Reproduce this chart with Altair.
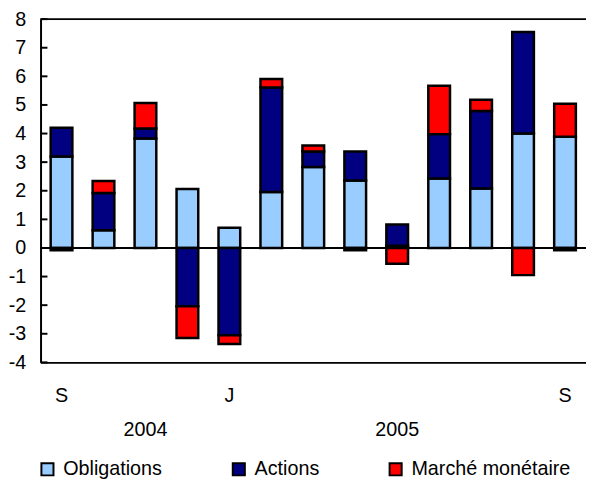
import altair as alt
import pandas as pd

months = ["2004-09", "2004-10", "2004-11", "2004-12", "2005-01", "2005-02", "2005-03",
          "2005-04", "2005-05", "2005-06", "2005-07", "2005-08", "2005-09"]
month_labels = ["S", "", "", "", "J", "", "", "", "", "", "", "", "S"]
series = ["Obligations", "Actions", "Marché monétaire"]
colors = ["#99CCFF", "#000080", "#FF0000"]
obligations = [3.20, 0.62, 3.83, 2.06, 0.71, 1.96, 2.83, 2.36, 0.08, 2.43, 2.08, 4.00, 3.89]
actions = [1.00, 1.30, 0.35, -2.04, -3.05, 3.65, 0.54, 1.01, 0.74, 1.55, 2.71, 3.55, -0.08]
money_market = [-0.08, 0.42, 0.89, -1.11, -0.31, 0.30, 0.21, -0.08, -0.55, 1.69, 0.39, -0.95, 1.15]
y_ticks = [-4, -3, -2, -1, 0, 1, 2, 3, 4, 5, 6, 7, 8]
year_labels = ["2004", "2005"]
year_at = ["2004-11", "2005-05"]

W, H = 553, 348
FONT = "Liberation Sans"

rows = []
for s_i, (name, vals) in enumerate(zip(series, [obligations, actions, money_market])):
    for m, v in zip(months, vals):
        rows.append({"mois": m, "serie": name, "valeur": v, "ordre": s_i})
df = pd.DataFrame(rows)

label_map = {m: l for m, l in zip(months, month_labels)}
label_expr = " : ".join(f"datum.value == '{m}' ? '{l}'" for m, l in label_map.items() if l) + " : ''"

y_scale = alt.Scale(domain=[-4, 8], nice=False)
x_scale = alt.Scale(domain=months)

x_axis = alt.Axis(title=None, labelExpr=label_expr, labelAngle=0, ticks=False,
                  domain=True, domainColor="black", domainWidth=2,
                  labelFontSize=20, labelColor="black", labelFont=FONT,
                  labelPadding=24)
y_axis = alt.Axis(title=None, values=y_ticks, ticks=False, grid=False,
                  domain=True, domainColor="black", domainWidth=2,
                  labelOverlap=False, labelExpr="datum.value + ''",
                  labelFontSize=20, labelColor="black", labelFont=FONT,
                  labelPadding=15)

bars = alt.Chart(df).mark_bar(width=22, stroke="black", strokeWidth=2.5).encode(
    x=alt.X("mois:N", sort=months, scale=x_scale, axis=x_axis),
    y=alt.Y("sum(valeur):Q", stack="zero", scale=y_scale, axis=y_axis),
    color=alt.Color("serie:N", scale=alt.Scale(domain=series, range=colors),
                    legend=alt.Legend(title=None, orient="none", legendX=-3, legendY=446,
                                      direction="horizontal", symbolType="square",
                                      symbolSize=150, symbolStrokeColor="black",
                                      symbolStrokeWidth=2, labelFontSize=20,
                                      labelFont=FONT, labelColor="black", labelLimit=400,
                                      columnPadding=66, labelOffset=6)),
    order=alt.Order("ordre:Q"),
)

tick_df = pd.DataFrame({"t": y_ticks})
ticks = alt.Chart(tick_df).mark_rule(color="black", strokeWidth=2).encode(
    y=alt.Y("t:Q", scale=y_scale, axis=y_axis), x=alt.value(0), x2=alt.value(7))

lines_df = pd.DataFrame({"v": [0, 8]})
hlines = alt.Chart(lines_df).mark_rule(color="black", strokeWidth=2).encode(
    y=alt.Y("v:Q", scale=y_scale, axis=y_axis))

year_df = pd.DataFrame({"mois": year_at, "label": year_labels})
years = alt.Chart(year_df).mark_text(fontSize=20, font=FONT, color="black",
                                     baseline="middle", align="center").encode(
    x=alt.X("mois:N", sort=months, scale=x_scale, axis=x_axis),
    y=alt.value(H + 69),
    text="label:N",
)

chart = alt.layer(bars, ticks, hlines, years).properties(
    width=W, height=H,
    autosize=alt.AutoSizeParams(type="none"),
    padding={"left": 33, "top": 8, "right": 0, "bottom": 118},
).configure_view(stroke=None).configure(font=FONT)

chart.save("out.html", embed_options={"renderer": "svg", "actions": False})
